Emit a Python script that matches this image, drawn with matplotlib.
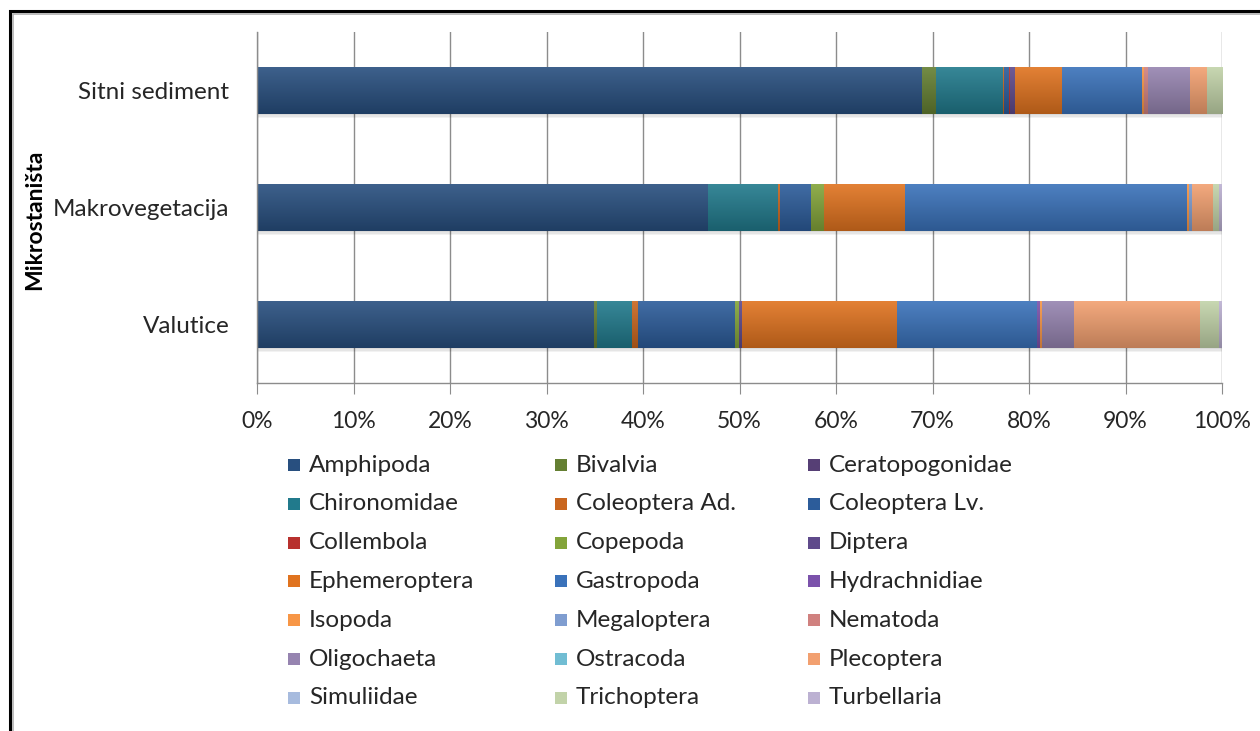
import numpy as np
import matplotlib
matplotlib.use("Agg")
import matplotlib.pyplot as plt
from matplotlib.patches import Rectangle
from matplotlib.colors import to_rgb

plt.rcParams['font.family'] = ['Lato', 'DejaVu Sans']

categories = ["Valutice", "Makrovegetacija", "Sitni sediment"]
taxa = ["Amphipoda", "Bivalvia", "Ceratopogonidae", "Chironomidae", "Coleoptera Ad.",
        "Coleoptera Lv.", "Collembola", "Copepoda", "Diptera", "Ephemeroptera",
        "Gastropoda", "Hydrachnidiae", "Isopoda", "Megaloptera", "Nematoda",
        "Oligochaeta", "Ostracoda", "Plecoptera", "Simuliidae", "Trichoptera",
        "Turbellaria"]
colors = ["#284F7F", "#647F32", "#563F75", "#217A8C", "#C9661F",
          "#2C5C9A", "#B8312E", "#83A43A", "#5F4A8B", "#E0731F",
          "#3A72BA", "#7B52AB", "#F79646", "#7F9DD0", "#D0817F",
          "#9684B0", "#71BDD3", "#F2A070", "#A7BBDE", "#C2D3A9",
          "#BCB1D2"]

# percentages per taxon, order: Valutice, Makrovegetacija, Sitni sediment
Amphipoda       = [35.0, 46.7, 68.8]
Bivalvia        = [0.3, 0.0, 1.5]
Ceratopogonidae = [0.0, 0.0, 0.0]
Chironomidae    = [3.6, 7.3, 6.9]
Coleoptera_Ad   = [0.6, 0.2, 0.15]
Coleoptera_Lv   = [10.1, 3.2, 0.45]
Collembola      = [0.0, 0.0, 0.15]
Copepoda        = [0.4, 1.4, 0.0]
Diptera         = [0.3, 0.0, 0.55]
Ephemeroptera   = [16.1, 8.4, 4.8]
Gastropoda      = [14.5, 29.2, 8.3]
Hydrachnidiae   = [0.3, 0.0, 0.0]
Isopoda         = [0.2, 0.2, 0.2]
Megaloptera     = [0.0, 0.3, 0.0]
Nematoda        = [0.0, 0.0, 0.4]
Oligochaeta     = [3.3, 0.0, 4.4]
Ostracoda       = [0.0, 0.0, 0.0]
Plecoptera      = [13.1, 2.2, 1.7]
Simuliidae      = [0.0, 0.0, 0.0]
Trichoptera     = [2.0, 0.6, 1.6]
Turbellaria     = [0.3, 0.3, 0.0]

values = np.array([Amphipoda, Bivalvia, Ceratopogonidae, Chironomidae, Coleoptera_Ad,
                   Coleoptera_Lv, Collembola, Copepoda, Diptera, Ephemeroptera,
                   Gastropoda, Hydrachnidiae, Isopoda, Megaloptera, Nematoda,
                   Oligochaeta, Ostracoda, Plecoptera, Simuliidae, Trichoptera,
                   Turbellaria], dtype=float)
values = values / values.sum(axis=0) * 100.0

W, H = 1260, 731
fig = plt.figure(figsize=(W / 100, H / 100), dpi=100)
ax = fig.add_axes([257 / W, 1 - 383 / H, (1222 - 257) / W, (383 - 32) / H])

y = np.arange(len(categories))
left = np.zeros(len(categories))
bar_h = 0.40


def shade(c, f):
    r = np.array(to_rgb(c))
    if f >= 0:
        return r + (1 - r) * f
    return r * (1 + f)


# soft shadow under bars
for k in range(3):
    ax.barh(y - 0.012 * (k + 1), 100, height=bar_h, color="#000000", alpha=0.05,
            zorder=1.5 - 0.01 * k)

for i, name in enumerate(taxa):
    bars = ax.barh(y, values[i], left=left, height=bar_h, color=colors[i],
                   edgecolor="none", zorder=2)
    top = shade(colors[i], 0.10)
    bot = shade(colors[i], -0.22)
    t = np.linspace(0, 1, 64)[:, None]
    grad = (top[None, :] * (1 - t) + bot[None, :] * t)[:, None, :]
    for p in bars:
        x0, y0 = p.get_x(), p.get_y()
        w, h = p.get_width(), p.get_height()
        if w <= 0:
            continue
        ax.imshow(grad, extent=[x0, x0 + w, y0, y0 + h], origin="upper",
                  aspect="auto", zorder=2.1, interpolation="bilinear")
    left += values[i]

ax.set_xlim(0, 100)
ax.set_ylim(-0.5, 2.5)
ax.set_xticks(np.arange(0, 101, 10))
ax.set_xticklabels([f"{v}%" for v in range(0, 101, 10)])
ax.set_yticks(y)
ax.set_yticklabels(categories)
ax.grid(axis="x", color="#8C8C8C", linewidth=1.0, zorder=0)
ax.set_axisbelow(True)
for s in ["top", "right"]:
    ax.spines[s].set_visible(False)
for s in ["left", "bottom"]:
    ax.spines[s].set_color("#8C8C8C")
    ax.spines[s].set_linewidth(1.0)
ax.tick_params(axis="x", length=8, color="#8C8C8C", labelsize=16.5, pad=12,
               labelcolor="#262626")
ax.tick_params(axis="y", length=0, labelsize=17.5, pad=20, labelcolor="#262626")

fig.text(35 / W, 1 - 220 / H, "Mikrostaništa", rotation=90, fontsize=16.5,
         fontweight="bold", ha="center", va="center", color="#000000")

# legend (row-wise, 3 columns)
col_x = [288, 555, 808]
row_y0, row_dy = 465, 38.8
sq = 12
for i, name in enumerate(taxa):
    r, c = divmod(i, 3)
    cy = row_y0 + r * row_dy
    fig.add_artist(Rectangle(((col_x[c]) / W, 1 - (cy + sq / 2) / H), sq / W, sq / H,
                             transform=fig.transFigure, facecolor=colors[i],
                             edgecolor="none"))
    fig.text((col_x[c] + sq + 9) / W, 1 - cy / H, name, fontsize=17.5,
             ha="left", va="center", color="#262626")

# outer frame
fig.add_artist(Rectangle((10 / W, -0.05), 1.1, 1.05 - 11 / H + 0.0,
                         transform=fig.transFigure, fill=False,
                         edgecolor="#000000", linewidth=2.2))
fig.add_artist(Rectangle((13 / W, -0.05), 1.1, 1.05 - 14 / H,
                         transform=fig.transFigure, fill=False,
                         edgecolor="#B0B0B0", linewidth=1.2))

fig.savefig("out.png", dpi=100)
